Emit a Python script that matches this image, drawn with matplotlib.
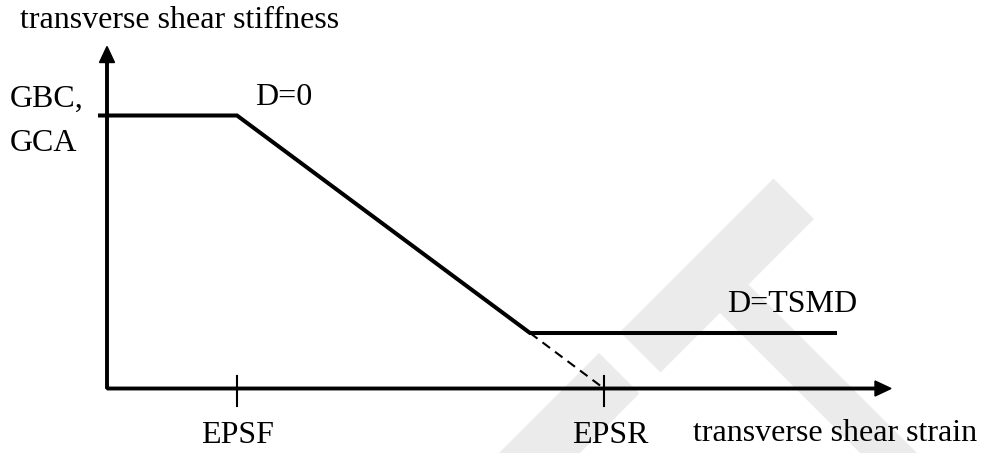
import matplotlib.pyplot as plt
from matplotlib.patches import Polygon

# ---------------------------------------------------------------------------
# Data (schematic units; origin at the axes corner)
# ---------------------------------------------------------------------------
strain = [-7, 130, 423, 728]            # knots of the stiffness curve
stiffness = [273, 273, 55.5, 55.5]      # GBC/GCA plateau, then D=TSMD plateau
eps_f = 130                             # EPSF
eps_r = 497                             # EPSR (extrapolated zero stiffness)
tick_labels = ['EPSF', 'EPSR']

x_len, y_len = 784, 342                 # axis arrow lengths

# light grey watermark (pixel coords of the original image)
W, H = 985, 453
watermark = [
    [(599, 353), (639.5, 393.5), (573, 460), (492, 460)],
    [(620, 332), (660.5, 372.5), (814, 219), (773.5, 178.5)],
    [(698.5, 291.5), (727, 263), (924, 460), (867, 460)],
]

FONT = dict(family='Liberation Serif', size=23, color='black')

fig = plt.figure(figsize=(W / 100, H / 100), dpi=100)
ax = fig.add_axes([0, 0, 1, 1])
ax.set_xlim(-107, W - 107)
ax.set_ylim(-(H - 388.5), 388.5)
ax.axis('off')

for poly in watermark:
    pts = [(px / W, 1 - py / H) for px, py in poly]
    fig.add_artist(Polygon(pts, closed=True, transform=fig.transFigure,
                           facecolor='#ebebeb', edgecolor='none', zorder=-1))

# ── axes with arrow heads ────────────────────────────────────────────────
ax.arrow(0, 0, x_len, 0, width=2.5, head_width=15, head_length=16,
         length_includes_head=True, color='black', zorder=3)
ax.arrow(0, 0, 0, y_len, width=2.5, head_width=15, head_length=16,
         length_includes_head=True, color='black', zorder=3)

# ── stiffness curve ─────────────────────────────────────────────────────
ax.plot(strain, stiffness, color='black', lw=2.9, solid_joinstyle='miter', zorder=4)
ax.plot([strain[2], eps_r], [stiffness[2], 0], color='black', lw=1.5,
        linestyle=(0, (4.5, 3)), zorder=4)

# ── ticks ───────────────────────────────────────────────────────────────
for x in (eps_f, eps_r):
    ax.plot([x, x], [13, -17], color='black', lw=1.5, zorder=4)

# ── labels ──────────────────────────────────────────────────────────────
ax.text(-87, 360.5, 'transverse shear stiffness', ha='left', va='baseline', **FONT)
ax.text(-97, 281.5, 'GBC,', ha='left', va='baseline', **FONT)
ax.text(-97, 237.5, 'GCA', ha='left', va='baseline', **FONT)
ax.text(148, 283.5, 'D=0', ha='left', va='baseline', **FONT)
ax.text(620, 76.5, 'D=TSMD', ha='left', va='baseline', **FONT)
ax.text(eps_f, -54.5, tick_labels[0], ha='center', va='baseline', **FONT)
ax.text(eps_r + 6, -54.5, tick_labels[1], ha='center', va='baseline', **FONT)
ax.text(586, -52.5, 'transverse shear strain', ha='left', va='baseline', **FONT)

fig.savefig('out.png', dpi=100, facecolor='white')
